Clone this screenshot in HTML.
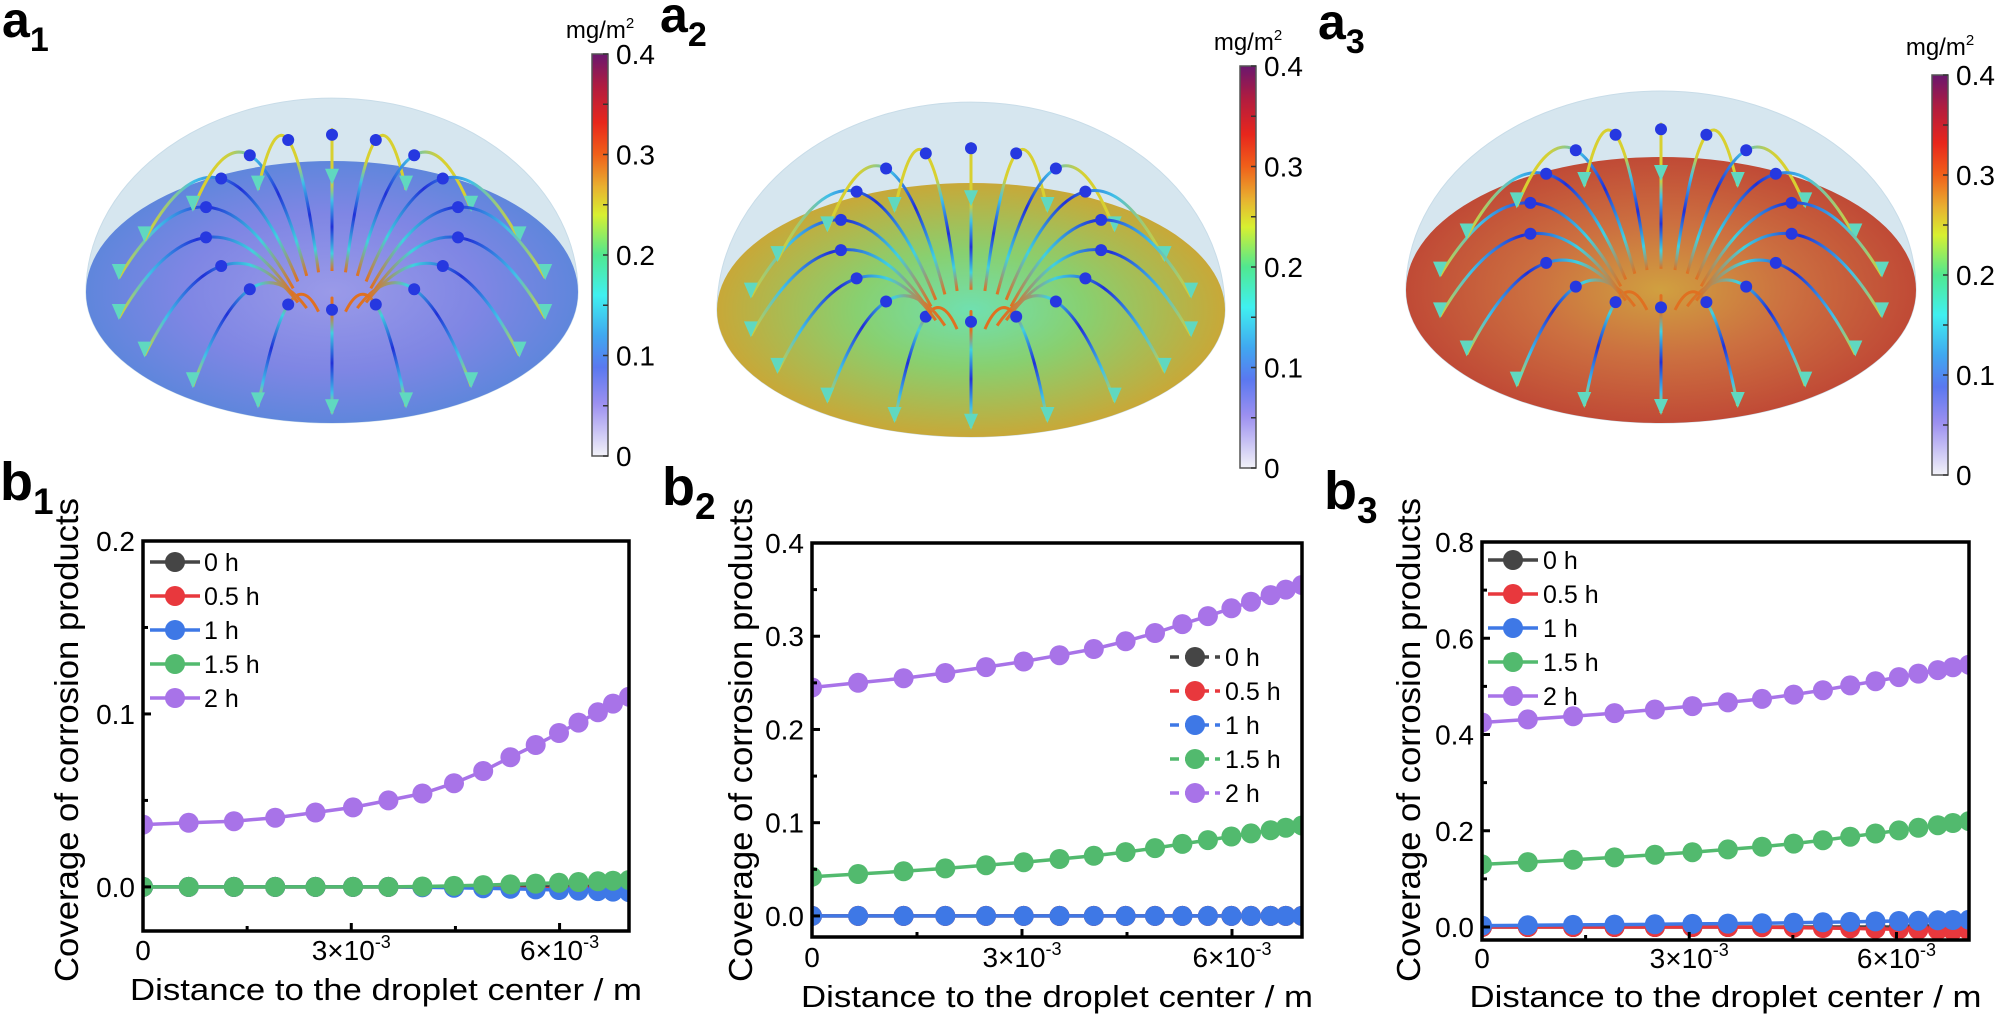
<!DOCTYPE html>
<html><head><meta charset="utf-8"><style>
html,body{margin:0;padding:0;background:#fff;}
svg{display:block;font-family:"Liberation Sans",Arial,sans-serif;}
</style></head><body>
<svg id="s" width="2000" height="1019" viewBox="0 0 2000 1019" xmlns="http://www.w3.org/2000/svg">
<defs>
<linearGradient id="cb" x1="0" y1="0" x2="0" y2="1">
<stop offset="0" stop-color="#6a176e"/><stop offset="0.08" stop-color="#b01c40"/><stop offset="0.17" stop-color="#e8261c"/><stop offset="0.25" stop-color="#f0601a"/><stop offset="0.33" stop-color="#e8b030"/><stop offset="0.4" stop-color="#d8f030"/><stop offset="0.5" stop-color="#50e890"/><stop offset="0.6" stop-color="#40f0f0"/><stop offset="0.7" stop-color="#40a8f0"/><stop offset="0.78" stop-color="#5a78f0"/><stop offset="0.87" stop-color="#9c90f0"/><stop offset="1" stop-color="#f2f2f8"/>
</linearGradient>
<radialGradient id="d1" cx="0.5" cy="0.5" r="0.5"><stop offset="0" stop-color="#9a9ae8"/><stop offset="0.6" stop-color="#7f86e4"/><stop offset="1" stop-color="#5f86dc"/></radialGradient>
<radialGradient id="d2" cx="0.5" cy="0.5" r="0.5"><stop offset="0" stop-color="#70e0b0"/><stop offset="0.45" stop-color="#88d070"/><stop offset="1" stop-color="#c8a838"/></radialGradient>
<radialGradient id="d3" cx="0.5" cy="0.5" r="0.5"><stop offset="0" stop-color="#d0a040"/><stop offset="0.5" stop-color="#cc7040"/><stop offset="1" stop-color="#c04a36"/></radialGradient>
</defs>
<g id="root"></g>
</svg>
<script>
var S='';
function T(x,y,t,o){o=o||{};S+='<text x="'+x+'" y="'+y+'" font-size="'+(o.fs||28)+'"'+(o.a?' text-anchor="'+o.a+'"':'')+(o.w?' font-weight="bold"':'')+(o.tl?' textLength="'+o.tl+'" lengthAdjust="spacingAndGlyphs"':'')+(o.tr?' transform="'+o.tr+'"':'')+'>'+t+'</text>';}
// panel labels
function lab(x,y,l,sub,fs){S+='<text x="'+x+'" y="'+y+'" font-size="'+fs+'" font-weight="bold">'+l+'<tspan font-size="'+Math.round(fs*0.68)+'" dy="14">'+sub+'</tspan></text>';}
lab(2,37,'a','1',50);lab(660,32,'a','2',50);lab(1318,39,'a','3',50);
lab(0,500,'b','1',54);lab(662,505,'b','2',54);lab(1324,509,'b','3',54);
// domes
function dome(cx,cy,rx,ry,top,grad){
 var rd=cy-top;
 S+='<path d="M'+(cx-rx)+' '+cy+' A'+rx+' '+rd+' 0 0 1 '+(cx+rx)+' '+cy+' A'+rx+' '+ry+' 0 0 1 '+(cx-rx)+' '+cy+'Z" fill="#d6e6ef" stroke="#c8dce8" stroke-width="1"/>';
 S+='<ellipse cx="'+cx+'" cy="'+cy+'" rx="'+rx+'" ry="'+ry+'" fill="url(#'+grad+')"/>';
 var N=18;
 for(var k=0;k<N;k++){
  var th=(k+0.5)/N*2*Math.PI, c=Math.cos(th), s=Math.sin(th);
  var sx=cx+0.16*rx*c, sy=cy+0.16*ry*s;
  var ex=cx+0.88*rx*c, ey=cy+0.88*ry*s+6;
  var mx=(sx+ex)/2, my=(sy+ey)/2-rd*(0.75+0.2*(-s));
  var id='g'+cx+'_'+k;
  S+='<linearGradient id="'+id+'" gradientUnits="userSpaceOnUse" x1="'+sx+'" y1="'+sy+'" x2="'+ex+'" y2="'+ey+'"><stop offset="0" stop-color="#e07020"/><stop offset="0.2" stop-color="#40d0e0"/><stop offset="0.5" stop-color="#2030d8"/><stop offset="0.8" stop-color="#40c0e8"/><stop offset="1" stop-color="#d8d030"/></linearGradient>';
  S+='<path d="M'+sx.toFixed(1)+' '+sy.toFixed(1)+' Q'+mx.toFixed(1)+' '+my.toFixed(1)+' '+ex.toFixed(1)+' '+ey.toFixed(1)+'" fill="none" stroke="url(#'+id+')" stroke-width="3"/>';
  var ax=0.25*sx+0.5*mx+0.25*ex, ay=0.25*sy+0.5*my+0.25*ey;
  S+='<circle cx="'+ax.toFixed(1)+'" cy="'+ay.toFixed(1)+'" r="6" fill="#2638e0"/>';
  S+='<path d="M'+(ex-7)+' '+(ey-14)+' L'+(ex+7)+' '+(ey-14)+' L'+ex+' '+(ey+2)+'Z" fill="#60d8c0"/>';
 }
}
dome(332,292,246,131,98,'d1');dome(971,310,254,127,102,'d2');dome(1661,290,255,133,91,'d3');
// colorbars
function cbar(x,t,b,my){
 S+='<rect x="'+x+'" y="'+t+'" width="16" height="'+(b-t)+'" fill="url(#cb)" stroke="#555" stroke-width="1.5"/>';
 for(var i=0;i<=8;i++){var y=t+(b-t)*i/8;S+='<line x1="'+(x+11)+'" x2="'+(x+16)+'" y1="'+y+'" y2="'+y+'" stroke="#333" stroke-width="1.5"/>';}
 var L=['0.4','0.3','0.2','0.1','0'];
 for(var i=0;i<5;i++){T(x+24,t+(b-t)*i/4+10,L[i],{fs:28});}
 S+='<text x="'+(x+8)+'" y="'+my+'" font-size="24" text-anchor="middle">mg/m<tspan font-size="15" dy="-10">2</tspan></text>';
}
cbar(592,54,456,38);cbar(1240,66,468,50);cbar(1932,75,475,55);
// plots
var fr=[0,.094,.187,.272,.355,.432,.505,.575,.640,.700,.756,.808,.856,.896,.936,.967,1.0];
var gb=[0,.014,.027,.054,.095,.135,.189,.243,.324,.419,.527,.622,.716,.797,.878,.946,1];
var COL={k:'#454545',r:'#e8383d',b:'#3e78e6',g:'#52ba6e',p:'#a873e8'};
function plot(P){
 var L=P.L,R=P.R,Tp=P.T,B=P.B;
 function X(v){return L+(R-L)*v/P.xmax;}
 function Y(v){return Tp+(B-Tp)*(P.ymax-v)/(P.ymax-P.ymin);}
 S+='<svg x="'+L+'" y="'+Tp+'" width="'+(R-L)+'" height="'+(B-Tp)+'" viewBox="'+L+' '+Tp+' '+(R-L)+' '+(B-Tp)+'" overflow="hidden">';
 P.series.forEach(function(sr){
  var pts=fr.map(function(f,i){return [X(f*P.xmax),Y(sr.f(f,i))];});
  S+='<polyline fill="none" stroke="'+COL[sr.c]+'" stroke-width="3.5" points="'+pts.map(function(p){return p[0].toFixed(1)+','+p[1].toFixed(1);}).join(' ')+'"/>';
  pts.forEach(function(p){S+='<circle cx="'+p[0].toFixed(1)+'" cy="'+p[1].toFixed(1)+'" r="10" fill="'+COL[sr.c]+'"/>';});
 });
 S+='</svg>';
 S+='<rect x="'+L+'" y="'+Tp+'" width="'+(R-L)+'" height="'+(B-Tp)+'" fill="none" stroke="#000" stroke-width="3.5"/>';
 // y ticks
 for(var v=P.ymin0;v<=P.ymax+1e-9;v+=P.ystep/2){
  var y=Y(v),maj=Math.abs(Math.round(v/P.ystep)*P.ystep-v)<1e-9;
  S+='<line x1="'+L+'" x2="'+(L+(maj?8:5))+'" y1="'+y+'" y2="'+y+'" stroke="#000" stroke-width="3"/>';
  if(maj)T(L-8,y+10,v.toFixed(1),{fs:28,a:'end'});
 }
 for(var xv=1.5;xv<P.xmax;xv+=1.5){
  var x=X(xv),maj=Math.abs(xv%3)<1e-9;
  S+='<line x1="'+x+'" x2="'+x+'" y1="'+B+'" y2="'+(B-(maj?8:5))+'" stroke="#000" stroke-width="3"/>';
 }
 T(L,P.tb,'0',{fs:28,a:'middle'});
 [3,6].forEach(function(m){S+='<text x="'+X(m)+'" y="'+P.tb+'" font-size="28" text-anchor="middle">'+m+'×10<tspan font-size="18" dy="-12">-3</tspan></text>';});
 T((L+R)/2,P.xt,'Distance to the droplet center / m',{fs:31,a:'middle',tl:512});
 T(P.yx,982,'Coverage of corrosion products',{fs:33,tl:484,tr:'rotate(-90 '+P.yx+' 982)'});
 // legend
 var names=['0 h','0.5 h','1 h','1.5 h','2 h'],cs=['k','r','b','g','p'];
 for(var i=0;i<5;i++){var y=P.lg[2]+P.lg[3]*i;
  S+='<line x1="'+(P.lg[0]-25)+'" x2="'+(P.lg[0]+25)+'" y1="'+y+'" y2="'+y+'" stroke="'+COL[cs[i]]+'" stroke-width="3.5"'+(P.dash?' stroke-dasharray="9,6"':'')+'/>';
  S+='<circle cx="'+P.lg[0]+'" cy="'+y+'" r="10" fill="'+COL[cs[i]]+'"/>';
  T(P.lg[1],y+9,names[i],{fs:25});
 }
}
function g1(f,i){return gb[i];}
function g2(f,i){return (gb[i]+f)/2;}
function late(f){return f<0.5?0:Math.pow((f-0.5)/0.5,1.5);}
plot({L:143,R:629,T:541,B:931,xmax:7,ymin:-0.0255,ymax:0.2,ymin0:0,ystep:0.1,tb:960,xt:1000,yx:78,lg:[175,204,562,34],
 series:[{c:'k',f:function(){return 0;}},{c:'r',f:function(f){return -0.002*late(f);}},{c:'b',f:function(f){return -0.003*late(f);}},{c:'g',f:function(f){return 0.004*late(f);}},{c:'p',f:function(f,i){return 0.036+0.074*gb[i];}}]});
plot({L:812,R:1302,T:543,B:937,xmax:7,ymin:-0.0226,ymax:0.4,ymin0:0,ystep:0.1,tb:967,xt:1007,yx:752,lg:[1195,1225,657,34],dash:true,
 series:[{c:'k',f:function(){return 0;}},{c:'r',f:function(){return 0;}},{c:'b',f:function(){return 0;}},{c:'g',f:function(f,i){return 0.042+0.055*g2(f,i);}},{c:'p',f:function(f,i){return 0.245+0.11*g1(f,i)*0.6+0.11*0.4*f;}}]});
plot({L:1482,R:1969,T:542,B:940,xmax:7.05,ymin:-0.027,ymax:0.8,ymin0:0,ystep:0.2,tb:968,xt:1007,yx:1420,lg:[1513,1543,560,34],
 series:[{c:'k',f:function(){return 0;}},{c:'r',f:function(f){return -0.008*late(f);}},{c:'b',f:function(f,i){return 0.003+0.012*g2(f,i);}},{c:'g',f:function(f,i){return 0.13+0.09*g2(f,i);}},{c:'p',f:function(f,i){return 0.425+0.12*g2(f,i);}}]});
document.getElementById('root').innerHTML=S;
</script>
</body></html>
